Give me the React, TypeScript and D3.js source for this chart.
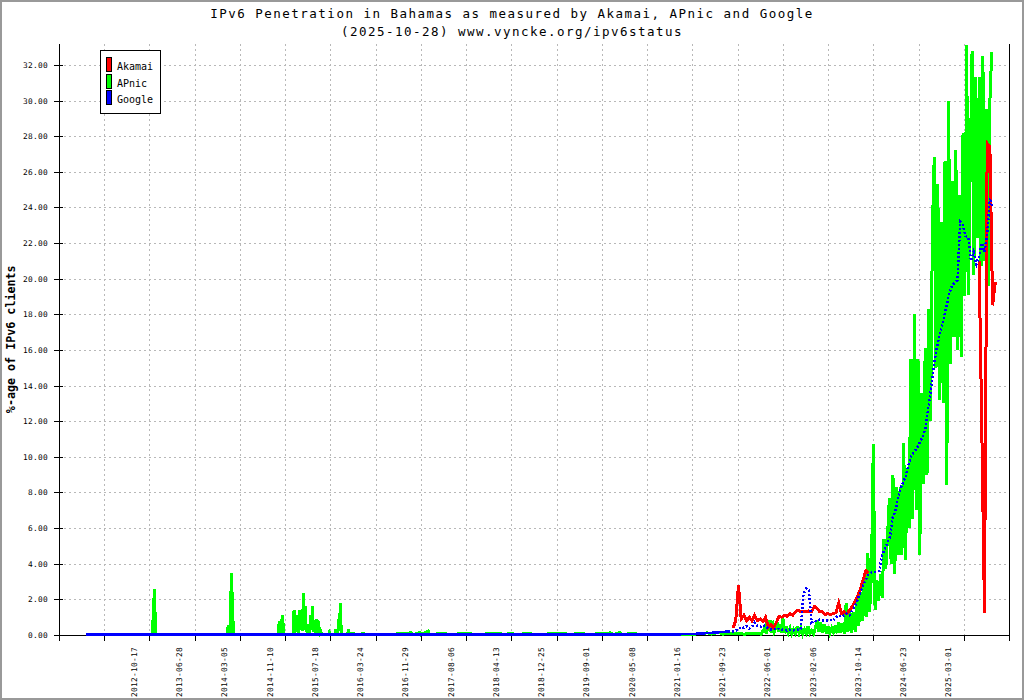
import React from "react";
import * as d3 from "d3";

// ---------------- data ----------------
const chartTitle = "IPv6 Penetration in Bahamas as measured by Akamai, APnic and Google";
const chartSubtitle = "(2025-10-28) www.vyncke.org/ipv6status";
const yAxisLabel = "%-age of IPv6 clients";
const seriesNames = ["Akamai", "APnic", "Google"];
const seriesColors = ["#ff0000", "#00ff00", "#0000ff"];

const xTickLabels = [
  "2012-10-17", "2013-06-28", "2014-03-05", "2014-11-10", "2015-07-18",
  "2016-03-24", "2016-11-29", "2017-08-06", "2018-04-13", "2018-12-25",
  "2019-09-01", "2020-05-08", "2021-01-16", "2021-09-23", "2022-06-01",
  "2023-02-06", "2023-10-14", "2024-06-23", "2025-03-01",
];
const yTickValues = [0, 2, 4, 6, 8, 10, 12, 14, 16, 18, 20, 22, 24, 26, 28, 30, 32];

// Google: sparse early part, then every 15 days
const googleEarly: [string, number][] = [
  ["2011-11-02", 0.02], ["2016-12-20", 0.03], ["2020-10-01", 0.03],
  ["2021-01-20", 0.06], ["2021-04-01", 0.1], ["2021-06-10", 0.15], ["2021-08-01", 0.2],
];
const googleStart = "2021-08-29";
const googleStepDays = 15;
const googleValues = [
  0.2, 0.25, 0.3, 0.45, 0.4, 0.5, 0.35, 0.45, 0.7, 0.5,
  0.45, 0.55, 0.5, 0.35, 0.3, 0.35, 0.3, 0.35, 0.3, 0.3,
  0.25, 0.3, 0.25, 0.3, 0.3, 0.35, 2.3, 2.6, 2.5, 0.7,
  0.8, 0.75, 0.85, 0.8, 0.8, 0.8, 0.85, 0.8, 1.0, 1.1,
  1.0, 1.1, 1.2, 1.1, 1.4, 1.6, 2.0, 2.4, 2.8, 3.1,
  3.4, 3.5, 3.5, 3.6, 3.6, 4.5, 4.8, 5.2, 5.5, 6.6,
  7.0, 7.7, 8.3, 8.6, 9.0, 9.6, 10.1, 10.3, 10.5, 10.8,
  11.1, 11.5, 12.5, 13.6, 14.8, 15.8, 16.6, 17.2, 17.8, 18.5,
  19.2, 19.6, 19.8, 19.9, 23.2, 23.0, 22.4, 22.3, 21.0, 21.5,
  20.8, 21.2, 22.0, 21.5, 22.5, 24.5, 24.0,
];

// Akamai: two periods with data, every 15 days
const akamaiStart = "2021-08-29";
const akamaiStepDays = 15;
const akamaiValues = [
  0.4, 0.8, 2.8, 0.9, 1.1, 0.8, 1.0, 0.8, 1.1, 0.8,
  0.9, 0.75, 1.0, 0.45, 0.6, 0.4, 0.7, 1.05, 1.0, 1.1,
  1.05, 1.2, 1.1, 1.3, 1.4, 1.3, 1.3, 1.3, 1.35, 1.3,
  1.6, 1.5, 1.3, 1.3, 1.15, 1.2, 1.15, 1.2, 1.25, 1.8,
  1.2, 1.3, 1.2, 1.4, 1.6, 1.9, 2.2, 2.6, 3.1, 3.6, 3.5,
];
const akamaiLateStart = "2025-05-25";
const akamaiLateValues = [21.0, 11.7, 1.25, 27.6, 27.4, 18.5, 19.8];

// APnic: sparse early part, then every 10 days
const apnicEarly: [string, number][] = [
  ["2012-06-01", 0.02], ["2012-11-02", 0.02], ["2012-11-08", 1.3], ["2012-11-14", 2.6], ["2012-11-20", 0.02],
  ["2013-12-22", 0.02], ["2013-12-27", 0.3], ["2013-12-31", 0.55], ["2014-01-04", 0.02], ["2014-01-11", 0.02],
  ["2014-01-16", 3.45], ["2014-01-23", 1.7], ["2014-01-28", 0.02],
  ["2014-10-03", 0.02], ["2014-10-08", 0.8], ["2014-10-14", 0.02], ["2014-10-19", 0.9], ["2014-10-23", 0.1],
  ["2014-10-27", 1.1], ["2014-11-01", 0.02],
  ["2014-12-24", 0.02], ["2014-12-29", 1.4], ["2015-01-03", 0.1], ["2015-01-09", 1.1], ["2015-01-14", 0.2],
  ["2015-01-19", 0.85], ["2015-01-24", 0.1], ["2015-01-29", 1.4], ["2015-02-03", 0.3], ["2015-02-08", 1.3],
  ["2015-02-13", 0.2], ["2015-02-19", 2.35], ["2015-02-24", 0.3], ["2015-03-01", 1.6], ["2015-03-06", 0.2],
  ["2015-03-11", 0.5], ["2015-03-16", 0.1], ["2015-03-21", 0.6], ["2015-03-26", 0.1], ["2015-03-31", 1.1],
  ["2015-04-05", 0.3], ["2015-04-10", 1.65], ["2015-04-15", 0.2], ["2015-04-20", 0.65], ["2015-04-25", 0.1],
  ["2015-04-30", 0.9], ["2015-05-05", 0.2], ["2015-05-10", 0.85], ["2015-05-15", 0.1], ["2015-05-20", 0.45],
  ["2015-05-25", 0.05], ["2015-05-30", 0.1], ["2015-06-05", 0.02],
  ["2015-07-08", 0.02], ["2015-07-12", 0.15], ["2015-07-17", 0.02], ["2015-08-12", 0.02], ["2015-08-16", 0.3],
  ["2015-08-21", 0.02], ["2015-08-28", 0.02], ["2015-09-01", 0.9], ["2015-09-06", 0.4], ["2015-09-11", 1.8],
  ["2015-09-16", 0.02], ["2015-10-21", 0.02], ["2015-10-26", 0.33], ["2015-10-31", 0.05], ["2015-11-24", 0.1],
  ["2015-12-01", 0.02], ["2016-01-10", 0.06], ["2016-06-01", 0.02], ["2016-10-07", 0.12], ["2016-10-15", 0.02],
  ["2016-11-25", 0.15], ["2016-12-01", 0.02], ["2017-01-08", 0.22], ["2017-01-14", 0.02], ["2017-04-12", 0.1],
  ["2017-04-20", 0.02], ["2017-08-28", 0.1], ["2017-09-05", 0.02], ["2018-02-13", 0.1], ["2018-02-20", 0.02],
  ["2018-04-20", 0.1], ["2018-05-01", 0.02], ["2018-08-01", 0.1], ["2018-08-08", 0.02], ["2019-02-15", 0.1],
  ["2019-02-22", 0.02], ["2019-05-20", 0.1], ["2019-06-10", 0.02], ["2019-10-20", 0.12], ["2019-11-01", 0.02],
  ["2019-12-10", 0.15], ["2019-12-20", 0.02], ["2020-03-01", 0.1], ["2020-03-15", 0.02], ["2020-08-01", 0.05],
  ["2021-02-01", 0.05], ["2021-04-10", 0.12], ["2021-05-01", 0.05], ["2021-06-10", 0.15], ["2021-07-01", 0.05],
  ["2021-09-01", 0.1], ["2021-11-01", 0.05], ["2021-12-15", 0.1], ["2022-02-01", 0.05], ["2022-02-23", 0.45],
  ["2022-03-01", 0.05], ["2022-03-22", 0.85], ["2022-03-28", 0.1], ["2022-04-05", 0.8], ["2022-04-15", 0.2],
  ["2022-05-01", 0.65], ["2022-05-10", 0.2], ["2022-05-20", 0.6], ["2022-05-26", 0.1],
];
const apnicStart = "2022-06-01";
const apnicStepDays = 10;
const apnicValues = [
  1.0, 0.1, 0.5, 0.1, 0.4, 0.05, 0.3, 0.1, 0.5, 0.1,
  0.4, 0.05, 0.3, 0.1, 0.5, 0.1, 0.25, 0.05, 0.4,
  0.85, 0.2, 0.7, 0.15, 0.6,
  0.1, 0.5, 0.1, 0.4, 0.15, 0.55, 0.1,
  0.7, 0.1, 0.65, 0.05, 1.8, 0.2,
  1.4, 0.1, 1.3, 0.2,
  2.15, 0.5,
  2.4, 0.8, 3.3, 1.0,
  4.6, 1.3, 3.5,
  10.7, 1.4, 3.1, 1.9, 3.4, 2.1, 5.4, 3.7, 5.6,
  7.7, 4.0, 9.0, 3.4, 8.3, 4.5, 8.3, 4.5, 10.8, 4.2, 9.3, 6.0,
  15.5, 6.5, 18.0, 7.0, 15.5, 4.5, 13.6, 8.5, 16.1, 9.0, 18.3, 12.0,
  22.7, 26.8, 15.0, 25.3, 13.2, 23.2, 13.0, 26.6,
  8.4, 30.0, 15.2, 25.5, 16.7, 27.2, 16.0, 24.7, 15.6, 28.2,
  19.0, 33.1, 19.1, 26.3, 32.8, 20.2, 31.3, 22.3, 31.3, 20.7,
  32.5, 21.0, 29.5, 19.6, 30.5, 32.7,
];

// ---------------- layout ----------------
const WIDTH = 1024;
const HEIGHT = 700;
const PLOT = { left: 59, right: 1009, top: 43.5, bottom: 635 };
const Y_MAX = 33.2;
const MONO = "'DejaVu Sans Mono', monospace";

type Pt = { date: Date; value: number };
const parse = d3.timeParse("%Y-%m-%d");

function regular(start: string, step: number, values: number[]): Pt[] {
  const s = parse(start) as Date;
  return values.map((v, i) => ({ date: d3.timeDay.offset(s, i * step), value: v }));
}
function fromPairs(list: [string, number][]): Pt[] {
  return list.map(([d, v]) => ({ date: parse(d) as Date, value: v }));
}

export default function App() {
  const tickDates = xTickLabels.map((d) => parse(d) as Date);
  const first = +tickDates[0];
  const last = +tickDates[tickDates.length - 1];
  const stepMs = (last - first) / (tickDates.length - 1);
  const anchors = [new Date(first - 2 * stepMs), new Date(first - stepMs), ...tickDates, new Date(last + stepMs)];
  const anchorRange = anchors.map((_, i) => PLOT.left + (i * (PLOT.right - PLOT.left)) / (anchors.length - 1));
  const x = d3.scaleTime().domain(anchors).range(anchorRange);
  const y = d3.scaleLinear().domain([0, Y_MAX]).range([PLOT.bottom, PLOT.top]);

  const line = d3
    .line<Pt>()
    .x((d) => x(d.date))
    .y((d) => y(d.value));

  const apnic = [...fromPairs(apnicEarly), ...regular(apnicStart, apnicStepDays, apnicValues)];
  const akamai1 = regular(akamaiStart, akamaiStepDays, akamaiValues);
  const akamai2 = regular(akamaiLateStart, akamaiStepDays, akamaiLateValues);
  const googleE = fromPairs(googleEarly);
  const googleD = [googleE[googleE.length - 1], ...regular(googleStart, googleStepDays, googleValues)];

  const gridColor = "#b8b8b8";

  return (
    <svg
      width={WIDTH}
      height={HEIGHT}
      style={{ position: "absolute", left: 0, top: 0, display: "block", background: "#fff" }}
    >
      <rect x={0} y={0} width={WIDTH} height={HEIGHT} fill="#fff" />
      <rect x={1} y={1} width={WIDTH - 2} height={HEIGHT - 2} fill="none" stroke="#999" strokeWidth={2} />

      {/* titles */}
      <text x={WIDTH / 2} y={18} textAnchor="middle" fontFamily={MONO} fontSize={12.5} letterSpacing={1.48} fill="#000">
        {chartTitle}
      </text>
      <text x={WIDTH / 2} y={36} textAnchor="middle" fontFamily={MONO} fontSize={12.5} letterSpacing={1.48} fill="#000">
        {chartSubtitle}
      </text>

      {/* grid */}
      <g shapeRendering="crispEdges" stroke={gridColor} strokeDasharray="2 3" strokeWidth={1}>
        {yTickValues
          .filter((v) => v > 0)
          .map((v) => (
            <line key={"gy" + v} x1={PLOT.left} x2={PLOT.right} y1={Math.round(y(v)) + 0.5} y2={Math.round(y(v)) + 0.5} />
          ))}
        {anchors.slice(1, anchors.length - 1).map((d, i) => (
          <line key={"gx" + i} x1={Math.round(x(d)) + 0.5} x2={Math.round(x(d)) + 0.5} y1={PLOT.top} y2={PLOT.bottom} />
        ))}
      </g>

      {/* axes */}
      <g shapeRendering="crispEdges" stroke="#000" strokeWidth={1}>
        <line x1={PLOT.left + 0.5} x2={PLOT.left + 0.5} y1={PLOT.top} y2={PLOT.bottom + 0.5} />
        <line x1={PLOT.right + 0.5} x2={PLOT.right + 0.5} y1={PLOT.top} y2={PLOT.bottom + 0.5} />
        <line x1={PLOT.left} x2={PLOT.right + 1} y1={PLOT.bottom + 0.5} y2={PLOT.bottom + 0.5} />
        {yTickValues.map((v) => (
          <line key={"ty" + v} x1={PLOT.left - 5} x2={PLOT.left + 4} y1={Math.round(y(v)) + 0.5} y2={Math.round(y(v)) + 0.5} />
        ))}
        {anchors.map((d, i) => (
          <line key={"tx" + i} x1={Math.round(x(d)) + 0.5} x2={Math.round(x(d)) + 0.5} y1={PLOT.bottom} y2={PLOT.bottom + 6} />
        ))}
      </g>

      {/* y tick labels */}
      <g fontFamily={MONO} fontSize={7.8} letterSpacing={0.3} fill="#000">
        {yTickValues.map((v) => (
          <text key={"ly" + v} x={48} y={y(v) + 3} textAnchor="end">
            {v.toFixed(2)}
          </text>
        ))}
      </g>

      {/* x tick labels */}
      <g fontFamily={MONO} fontSize={7.8} letterSpacing={0.3} fill="#000">
        {tickDates.map((d, i) => (
          <text
            key={"lx" + i}
            transform={`translate(${x(d) - 12.5},647) rotate(-90)`}
            textAnchor="end"
          >
            {xTickLabels[i]}
          </text>
        ))}
      </g>

      {/* y axis title */}
      <text
        transform={`translate(15,${(PLOT.top + PLOT.bottom) / 2}) rotate(-90)`}
        textAnchor="middle"
        fontFamily={MONO}
        fontWeight="bold"
        fontSize={11.7}
        fill="#000"
      >
        {yAxisLabel}
      </text>

      {/* data */}
      <g fill="none" strokeLinejoin="miter" shapeRendering="crispEdges">
        <path d={line(apnic) || ""} stroke={seriesColors[1]} strokeWidth={3} />
        <path d={line(akamai1) || ""} stroke={seriesColors[0]} strokeWidth={3} />
        <path d={line(akamai2) || ""} stroke={seriesColors[0]} strokeWidth={3} />
        <path d={line(googleE) || ""} stroke={seriesColors[2]} strokeWidth={2.5} />
        <path d={line(googleD) || ""} stroke={seriesColors[2]} strokeWidth={2.5} strokeDasharray="2 2" />
      </g>

      {/* legend */}
      <g>
        <rect x={100.5} y={50.5} width={60} height={63} fill="#fff" stroke="#000" strokeWidth={1} shapeRendering="crispEdges" />
        {seriesNames.map((name, i) => (
          <g key={name}>
            <rect
              x={106.5}
              y={57.5 + i * 16.7}
              width={5}
              height={14}
              fill={seriesColors[i]}
              stroke="#000"
              strokeWidth={1}
              shapeRendering="crispEdges"
            />
            <text x={117} y={70 + i * 16.7} fontFamily={MONO} fontSize={10} fill="#000">
              {name}
            </text>
          </g>
        ))}
      </g>
    </svg>
  );
}
